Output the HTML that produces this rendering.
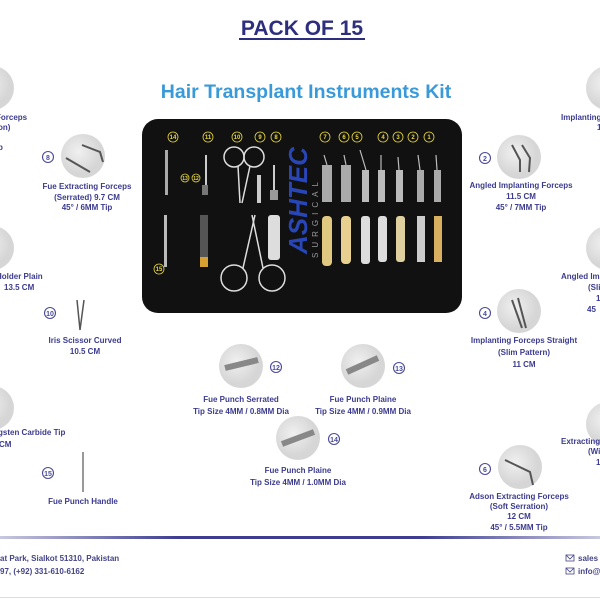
<!DOCTYPE html>
<html><head><meta charset="utf-8"><style>
html,body{margin:0;padding:0;background:#fff;}
svg{display:block;}
text{font-family:"Liberation Sans",sans-serif;font-weight:bold;}
.l{fill:#3b3b8f;font-size:8px;text-anchor:middle;}
.ls{fill:#3b3b8f;font-size:8px;}
.n{fill:none;stroke:#4a4a9a;stroke-width:1.1;}
.nt{fill:#4a4a9a;font-size:8px;text-anchor:middle;}
.y{fill:none;stroke:#e8d840;stroke-width:0.8;}
.yt{fill:#e8d840;font-size:6px;text-anchor:middle;font-weight:normal;}
</style></head><body>
<svg width="600" height="600" viewBox="0 0 600 600">
<defs>
<linearGradient id="fl" x1="0" x2="1"><stop offset="0" stop-color="#c8c8e0"/><stop offset="0.3" stop-color="#3c3c90"/><stop offset="0.7" stop-color="#3c3c90"/><stop offset="1" stop-color="#c8c8e0"/></linearGradient>
<radialGradient id="cg" cx="0.4" cy="0.4"><stop offset="0" stop-color="#f0f0f0"/><stop offset="1" stop-color="#d6d6d6"/></radialGradient>
</defs>
<rect width="600" height="600" fill="#fff"/>
<text x="302" y="35" style="font-size:21px;fill:#2e2e7e;text-anchor:middle">PACK OF 15</text>
<rect x="239" y="38" width="126" height="2" fill="#2e2e7e"/>
<text x="306" y="98" style="font-size:19.5px;fill:#3a9ad9;text-anchor:middle">Hair Transplant Instruments Kit</text>

<!-- case -->
<rect x="142" y="119" width="320" height="194" rx="16" fill="#111"/>
<g class="y">
<circle cx="173" cy="137" r="5"/><circle cx="208" cy="137" r="5"/><circle cx="237" cy="137" r="5"/><circle cx="260" cy="137" r="5"/><circle cx="276" cy="137" r="5"/><circle cx="325" cy="137" r="5"/><circle cx="344" cy="137" r="5"/><circle cx="357" cy="137" r="5"/><circle cx="383" cy="137" r="5"/><circle cx="398" cy="137" r="5"/><circle cx="413" cy="137" r="5"/><circle cx="429" cy="137" r="5"/><circle cx="185" cy="178" r="4"/><circle cx="196" cy="178" r="4"/><circle cx="159" cy="269" r="5"/></g>
<g class="yt">
<text x="173" y="139">14</text><text x="208" y="139">11</text><text x="237" y="139">10</text><text x="260" y="139">9</text><text x="276" y="139">8</text><text x="325" y="139">7</text><text x="344" y="139">6</text><text x="357" y="139">5</text><text x="383" y="139">4</text><text x="398" y="139">3</text><text x="413" y="139">2</text><text x="429" y="139">1</text><text x="185" y="180" style="font-size:5px">13</text><text x="196" y="180" style="font-size:5px">12</text><text x="159" y="271">15</text></g>
<rect x="165" y="150" width="3" height="45" fill="#aaa"/><rect x="164" y="215" width="3" height="52" fill="#bbb"/>
<rect x="205" y="155" width="2" height="30" fill="#ccc"/><rect x="202" y="185" width="6" height="10" fill="#777"/><rect x="200" y="215" width="8" height="42" fill="#555"/><rect x="200" y="257" width="8" height="10" fill="#d8a030"/>
<g fill="none" stroke="#ddd" stroke-width="1.5">
<circle cx="234" cy="157" r="10"/><circle cx="254" cy="157" r="10"/><line x1="238" y1="166" x2="240" y2="203"/><line x1="250" y1="166" x2="242" y2="203"/>
<circle cx="234" cy="278" r="13"/><circle cx="272" cy="278" r="13"/><line x1="243" y1="268" x2="255" y2="215"/><line x1="263" y1="268" x2="252" y2="215"/>
</g>
<rect x="257" y="175" width="4" height="28" fill="#ccc"/>
<rect x="273" y="165" width="2" height="25" fill="#ccc"/><rect x="270" y="190" width="8" height="10" fill="#999"/><rect x="268" y="215" width="12" height="45" rx="3" fill="#ddd"/>
<text transform="translate(307,254) rotate(-90)" style="font-size:26px;fill:#2846b8;font-style:italic">ASHTEC</text>
<text transform="translate(318,258) rotate(-90)" style="font-size:8px;fill:#999;letter-spacing:5px;font-weight:normal">SURGICAL</text>
<g>
<rect x="322" y="165" width="10" height="37" fill="#aaa"/><rect x="322" y="216" width="10" height="50" rx="4" fill="#e0c880"/>
<rect x="341" y="165" width="10" height="37" fill="#aaa"/><rect x="341" y="216" width="10" height="48" rx="4" fill="#e8d090"/>
<rect x="362" y="170" width="7" height="32" fill="#bbb"/><rect x="361" y="216" width="9" height="48" rx="3" fill="#ddd"/>
<rect x="378" y="170" width="7" height="32" fill="#bbb"/><rect x="378" y="216" width="9" height="46" rx="3" fill="#ddd"/>
<rect x="396" y="170" width="7" height="32" fill="#bbb"/><rect x="396" y="216" width="9" height="46" rx="3" fill="#e0d0a0"/>
<rect x="417" y="170" width="7" height="32" fill="#aaa"/><rect x="417" y="216" width="8" height="46" fill="#ccc"/>
<rect x="434" y="170" width="7" height="32" fill="#aaa"/><rect x="434" y="216" width="8" height="46" fill="#d8b060"/>
</g>
<g stroke="#bbb" stroke-width="1.2"><line x1="327" y1="165" x2="324" y2="155"/><line x1="346" y1="165" x2="344" y2="155"/><line x1="366" y1="170" x2="360" y2="150"/><line x1="381" y1="170" x2="381" y2="155"/><line x1="399" y1="170" x2="398" y2="157"/><line x1="420" y1="170" x2="418" y2="155"/><line x1="437" y1="170" x2="436" y2="155"/></g>

<g fill="url(#cg)">
<circle cx="83" cy="156" r="22"/><circle cx="519" cy="157" r="22"/><circle cx="519" cy="311" r="22"/>
<circle cx="241" cy="366" r="22"/><circle cx="363" cy="366" r="22"/><circle cx="298" cy="438" r="22"/><circle cx="520" cy="467" r="22"/>
<circle cx="-8" cy="88" r="22"/><circle cx="-8" cy="248" r="22"/><circle cx="-8" cy="408" r="22"/>
<circle cx="608" cy="88" r="22"/><circle cx="608" cy="248" r="22"/><circle cx="608" cy="424" r="22"/>
</g>
<g stroke="#555" stroke-width="2" fill="none">
<path d="M66 158 L90 172"/><path d="M82 145 L100 152 L103 162"/>
<path d="M512 145 L520 160 L520 172"/><path d="M522 145 L530 158 L529 172"/>
<path d="M512 300 L522 328"/><path d="M518 298 L526 328"/>
<path d="M505 460 L530 472 L533 485"/>
<line x1="225" y1="368" x2="258" y2="360" stroke="#888" stroke-width="6"/>
<line x1="347" y1="372" x2="378" y2="358" stroke="#888" stroke-width="6"/>
<line x1="282" y1="444" x2="314" y2="432" stroke="#888" stroke-width="6"/>
<path d="M77 300 L80 330 M84 300 L80 330" stroke-width="1.5"/>
<line x1="83" y1="452" x2="83" y2="492" stroke-width="1.2"/>
</g>

<g class="n"><circle cx="48" cy="157" r="5.5"/><circle cx="50" cy="313" r="5.5"/><circle cx="48" cy="473" r="5.5"/><circle cx="485" cy="158" r="5.5"/><circle cx="485" cy="313" r="5.5"/><circle cx="485" cy="469" r="5.5"/><circle cx="276" cy="367" r="5.5"/><circle cx="399" cy="368" r="5.5"/><circle cx="334" cy="439" r="5.5"/></g>
<g class="nt" style="font-size:7px"><text x="48" y="160">8</text><text x="50" y="316">10</text><text x="48" y="476">15</text><text x="485" y="161">2</text><text x="485" y="316">4</text><text x="485" y="472">6</text><text x="276" y="370">12</text><text x="399" y="371">13</text><text x="334" y="442">14</text></g>

<g class="l">
<text x="87" y="189">Fue Extracting Forceps</text><text x="87" y="200">(Serrated) 9.7 CM</text><text x="87" y="210">45° / 6MM Tip</text>
<text x="85" y="343">Iris Scissor Curved</text><text x="85" y="354">10.5 CM</text>
<text x="83" y="504">Fue Punch Handle</text>
<text x="521" y="188">Angled Implanting Forceps</text><text x="521" y="199">11.5 CM</text><text x="521" y="210">45° / 7MM Tip</text>
<text x="524" y="343">Implanting Forceps Straight</text><text x="524" y="355">(Slim Pattern)</text><text x="524" y="367">11 CM</text>
<text x="241" y="402">Fue Punch Serrated</text><text x="241" y="414">Tip Size 4MM / 0.8MM Dia</text>
<text x="363" y="402">Fue Punch Plaine</text><text x="363" y="414">Tip Size 4MM / 0.9MM Dia</text>
<text x="298" y="473">Fue Punch Plaine</text><text x="298" y="485">Tip Size 4MM / 1.0MM Dia</text>
<text x="519" y="499">Adson Extracting Forceps</text><text x="519" y="509">(Soft Serration)</text><text x="519" y="519">12 CM</text><text x="519" y="530">45° / 5.5MM Tip</text>
</g>
<g class="ls">
<text x="-4" y="120">Forceps</text><text x="-2" y="130">on)</text><text x="-2" y="150">p</text>
<text x="-4" y="279">Holder Plain</text><text x="4" y="290">13.5 CM</text>
<text x="-2" y="435">gsten Carbide Tip</text><text x="-1" y="447">CM</text>
<text x="561" y="120">Implanting</text><text x="597" y="130">1</text>
<text x="561" y="279">Angled Imp</text><text x="588" y="290">(Sli</text><text x="596" y="301">1</text><text x="587" y="312">45</text>
<text x="561" y="444">Extracting</text><text x="588" y="454">(Wi</text><text x="596" y="465">1</text>
</g>

<rect x="0" y="536" width="600" height="3" fill="url(#fl)"/>
<g class="ls" style="fill:#444488">
<text x="0" y="561">at Park, Sialkot 51310, Pakistan</text><text x="0" y="574">97, (+92) 331-610-6162</text>
<text x="578" y="561">sales</text><text x="578" y="574">info@</text>
</g>
<g fill="none" stroke="#444488" stroke-width="0.8"><rect x="566" y="555" width="8" height="6"/><path d="M566 555 L570 559 L574 555"/><rect x="566" y="568" width="8" height="6"/><path d="M566 568 L570 572 L574 568"/></g>
<rect x="0" y="597" width="600" height="1" fill="#ddd"/>
</svg>
</body></html>
